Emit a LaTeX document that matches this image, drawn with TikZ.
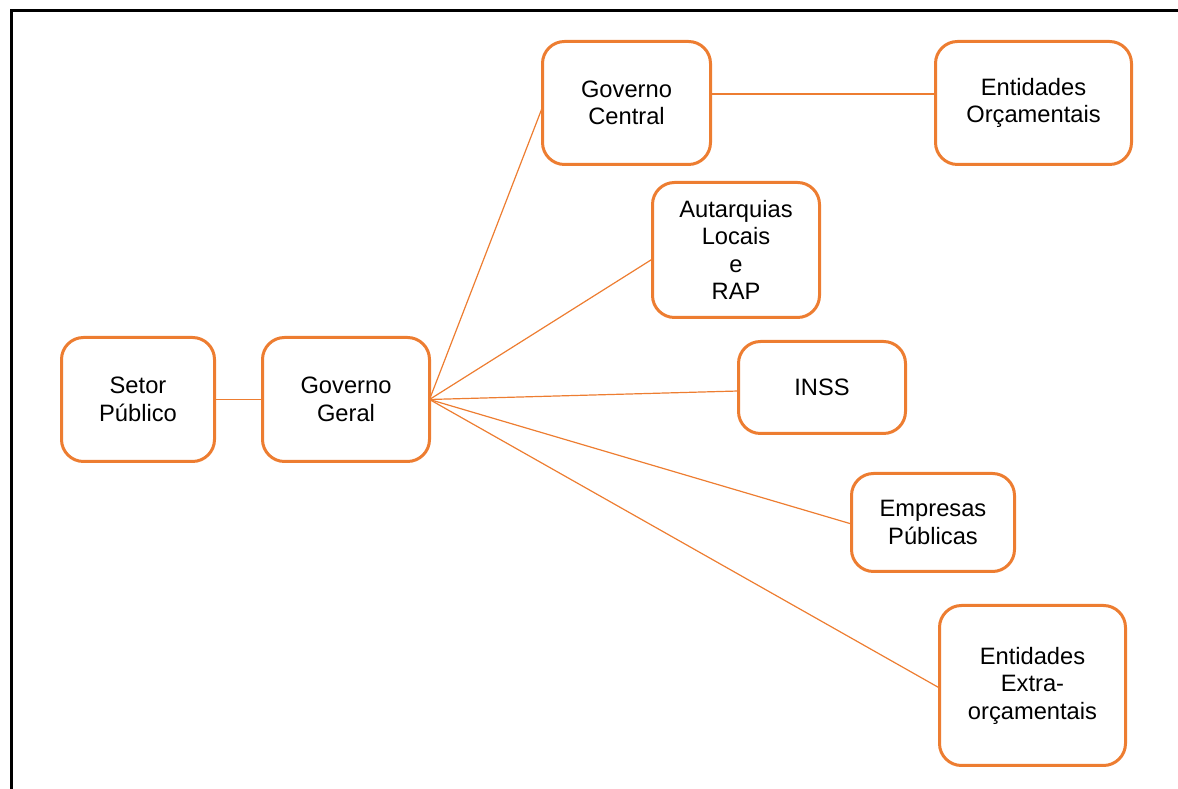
\documentclass[tikz,border=0pt]{standalone}
\usepackage{fontspec}
\setmainfont{Liberation Sans}
\usetikzlibrary{positioning, calc}
\definecolor{office orange}{HTML}{ED7D31}
\tikzset{x=1pt, y=1pt,
        entity/.style={ % Sets the properties for each box
            draw=office orange,
            line width=3pt,
            rounded corners=22pt,
            fill=white,
            align=center,
            inner sep=0pt, outer sep=0pt,
            font=\fontsize{23.7}{27.5}\selectfont},
        link/.style={ % Sets the properties for each connector
            draw=office orange,
            line width=1.2pt}
        }

\begin{document}
\begin{tikzpicture}
    \useasboundingbox (0,0) rectangle (1178,789);
    \draw[line width=3pt] (11,0) -- (11,778) -- (1178,778);

    \node[entity, minimum width=153, minimum height=124] (sp) at (138,389.5) {Setor\\Público};
    \node[entity, minimum width=167, minimum height=124] (gg) at (346,389.5) {Governo\\Geral};
    \node[entity, minimum width=168, minimum height=123] (gc) at (626.5,686) {Governo\\Central};
    \node[entity, minimum width=196, minimum height=123] (eo) at (1033.5,686) {Entidades\\Orçamentais};
    \node[entity, minimum width=167, minimum height=135] (al) at (736,539) {Autarquias\\Locais\\e\\RAP};
    \node[entity, minimum width=167, minimum height=92] (inss) at (822,401.5) {INSS};
    \node[entity, minimum width=163, minimum height=98] (ep) at (933,266.5) {Empresas\\Públicas};
    \node[entity, minimum width=186, minimum height=160] (ee) at (1032.5,103.5) {Entidades\\Extra-\\orçamentais};

    \draw[link] (sp) -- (gg);
    \draw[link] ([yshift=9]gc.east) -- ([yshift=9]eo.west);

    \draw[link] (gg.east) -- ([yshift=-4]gc.west);
    \draw[link] (gg.east) -- ([yshift=-9]al.west);
    \draw[link] (gg.east) -- ([yshift=-3.5]inss.west);
    \draw[link] (gg.east) -- ([yshift=-1.5]ep.west);
    \draw[link] (gg.east) -- ([yshift=-2.5]ee.west);
\end{tikzpicture}
\end{document}
